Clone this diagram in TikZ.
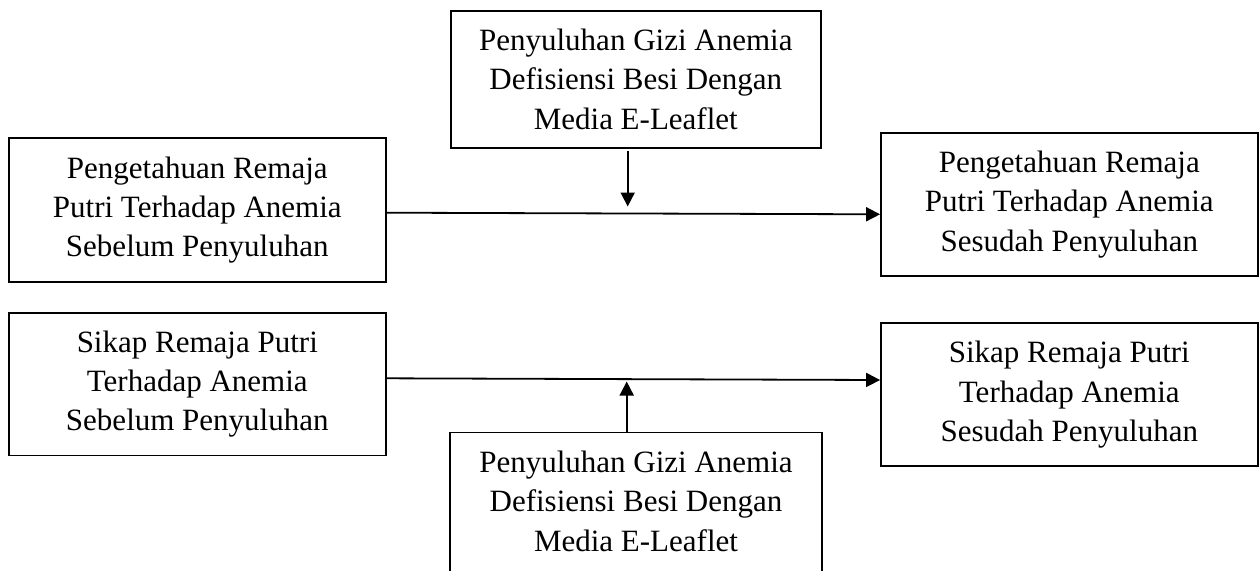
\documentclass[tikz,border=0pt]{standalone}
\usepackage{fontspec}
\setmainfont{Liberation Serif}
\usetikzlibrary{arrows.meta}
\begin{document}
\begin{tikzpicture}[x=1pt,y=1pt,
  boxtext/.style={align=center, inner sep=0pt,
    font=\fontsize{31}{39.3}\selectfont, text=black},
  boxnode/.style={boxtext, draw=black, line width=1.8pt},
  conn/.style={line width=1.8pt, -{Triangle[length=14pt,width=14pt]}}]
\useasboundingbox (0,0) rectangle (1260,-570);
\node[boxnode, minimum width=370pt, minimum height=136.7pt] (T) at (635.8,-79.3)
  {Penyuluhan Gizi Anemia\\Defisiensi Besi Dengan\\Media E-Leaflet};
\node[boxnode, minimum width=376.7pt, minimum height=143.4pt] (L1) at (197.3,-210)
  {Pengetahuan Remaja\\Putri Terhadap Anemia\\Sebelum Penyuluhan};
\node[boxnode, minimum width=376.6pt, minimum height=143pt] (R1) at (1069.3,-204.5)
  {Pengetahuan Remaja\\Putri Terhadap Anemia\\Sesudah Penyuluhan};
\node[boxnode, minimum width=376.7pt, minimum height=142.5pt] (L2) at (197.3,-384.2)
  {Sikap Remaja Putri\\Terhadap Anemia\\Sebelum Penyuluhan};
\node[boxnode, minimum width=376.6pt, minimum height=142.7pt] (R2) at (1069.3,-394.6)
  {Sikap Remaja Putri\\Terhadap Anemia\\Sesudah Penyuluhan};
\node[boxtext, minimum width=371pt, minimum height=137pt] (B) at (636,-501.2)
  {Penyuluhan Gizi Anemia\\Defisiensi Besi Dengan\\Media E-Leaflet};
\draw[line width=1.8pt] (B.north west) rectangle ([yshift=-8pt]B.south east);
\coordinate (m1) at (627.7,-206.5);
\coordinate (m2) at (626.7,-381.5);
\draw[conn] ([yshift=-2.7pt]L1.east) -- ([yshift=-9.8pt]R1.west);
\draw[conn] ([yshift=5.9pt]L2.east) -- ([yshift=14.6pt]R2.west);
\draw[conn] ([xshift=-8.1pt,yshift=-2pt]T.south) -- (m1);
\draw[conn] ([xshift=-9.3pt]B.north) -- (m2);
\end{tikzpicture}
\end{document}
